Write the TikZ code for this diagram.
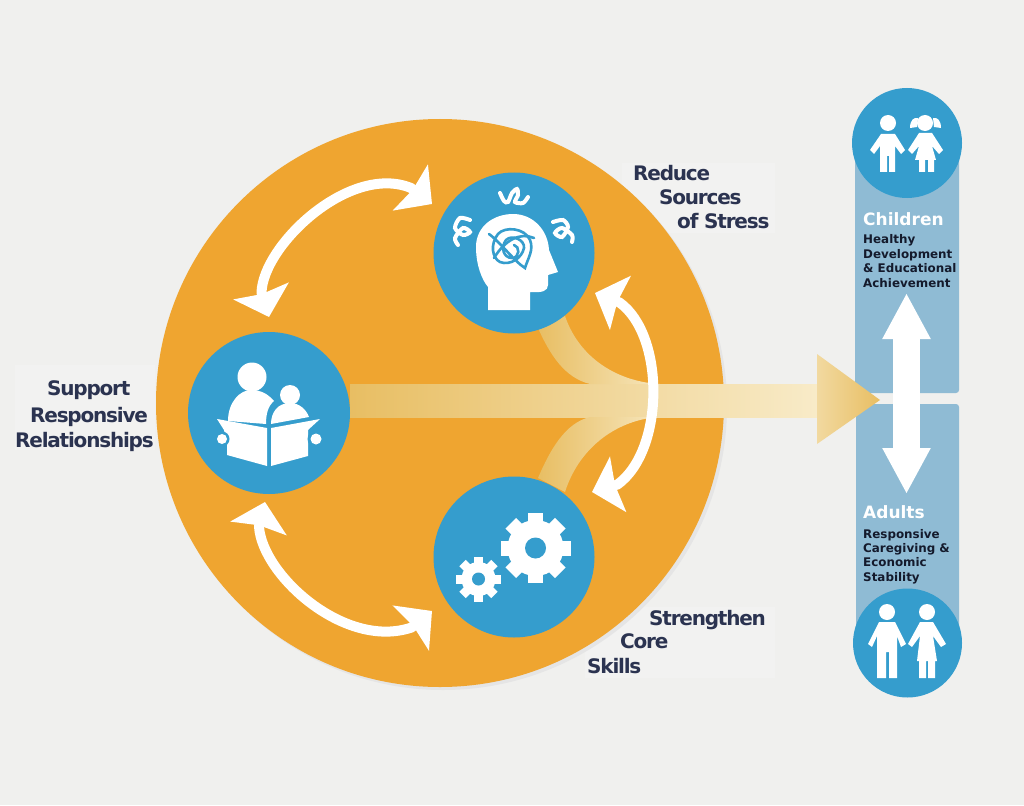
\documentclass[tikz,border=0pt]{standalone}
\usepackage{fontspec}
\usepackage{xcolor}
\usetikzlibrary{arrows.meta}
\newfontfamily\labelfont[LetterSpace=-6]{DejaVu Sans}
\newfontfamily\columnfont{DejaVu Sans}
\definecolor{paper}{HTML}{F0F0EE}
\definecolor{labelpaper}{HTML}{F2F2F1}
\definecolor{bigorange}{HTML}{EFA530}
\definecolor{iconblue}{HTML}{359DCD}
\definecolor{columnblue}{HTML}{8FBBD4}
\definecolor{navy}{HTML}{2B3350}
\definecolor{inknavy}{HTML}{141A2C}
\definecolor{bandstart}{HTML}{E8BE63}
\definecolor{bandend}{HTML}{F8EBC8}
\begin{document}
\begin{tikzpicture}[x=1pt,y=-1pt,
    iconcircle/.style={circle,fill=iconblue,inner sep=0pt},
    loopline/.style={white,line width=10pt,line join=round,{Stealth[length=27pt,width=57pt,inset=3pt]}-{Stealth[length=27pt,width=57pt,inset=3pt]}},
    labeltext/.style={anchor=base west,inner sep=0pt,text=navy,font=\labelfont\bfseries\fontsize{20}{23}\selectfont},
    columntitle/.style={anchor=base west,inner sep=0pt,text=white,font=\columnfont\bfseries\fontsize{17}{20}\selectfont},
    columntext/.style={anchor=base west,inner sep=0pt,text=inknavy,font=\columnfont\bfseries\fontsize{11.9}{14}\selectfont},
    scribble/.style={iconblue,line width=2.6pt,line cap=round},
    squiggle/.style={white,line width=4pt,line cap=round}]
        \useasboundingbox (0,0) rectangle (1024,805);
        \fill[paper] (0,0) rectangle (1024,805);
        \fill[labelpaper] (15,365) rectangle (155,450);
        \fill[labelpaper] (622,163) rectangle (775,233);
        \fill[labelpaper] (585,607) rectangle (775,678);
        \fill[black!10] (443,406) circle (284);
        \node[circle,fill=bigorange,inner sep=0pt,minimum size=568pt] (bigcircle) at (440,403) {};
        \shade[left color=bandstart,right color=bandend] (350,384) rectangle (817,417);
        \shade[left color=bandstart,right color=bandend!90!bandstart] (538,328) .. controls (550,355) and (565,378) .. (590,384) -- (660,384) .. controls (620,382) and (580,360) .. (565,316) -- cycle;
        \shade[left color=bandstart,right color=bandend!90!bandstart] (538,478) .. controls (550,450) and (565,423) .. (590,417) -- (660,417) .. controls (620,419) and (580,445) .. (565,492) -- cycle;
        \coordinate (loopA) at (269,317);
        \coordinate (loopAbase) at (261.5,292.5);
        \coordinate (loopB) at (432,204);
        \coordinate (loopBbase) at (411,188);
        \coordinate (loopC) at (265,502);
        \coordinate (loopCbase) at (259,526.5);
        \coordinate (loopD) at (432,611);
        \coordinate (loopDbase) at (411.5,627.5);
        \coordinate (loopE) at (595,293);
        \coordinate (loopEbase) at (619.5,302.5);
        \coordinate (loopF) at (592,492);
        \coordinate (loopFbase) at (617.5,484.5);
        \draw[loopline] (loopA) -- (loopAbase) .. controls (263,245) and (350,163) .. (loopBbase) -- (loopB);
        \draw[loopline] (loopC) -- (loopCbase) .. controls (262,575) and (345,650) .. (loopDbase) -- (loopD);
        \draw[loopline] (loopE) -- (loopEbase) .. controls (665,335) and (665,450) .. (loopFbase) -- (loopF);
        \node[iconcircle,minimum size=162pt] (readers) at (269,413) {};
        \node[iconcircle,minimum size=161pt] (stress) at (514,253) {};
        \node[iconcircle,minimum size=161pt] (skills) at (514,557) {};
        % readers
        \fill[white] (252,377) circle (14.5);
        \fill[white] (290,395) circle (10);
        \fill[white] (228,421) .. controls (228,402) and (240,390) .. (251,390) .. controls (261,390) and (268,394) .. (274,401) .. controls (268,406) and (266,414) .. (266,424) -- cycle;
        \fill[white] (271,424) .. controls (271,412) and (278,403) .. (290,403) .. controls (299,403) and (306,409) .. (309,417) -- cycle;
        \fill[white] (217,419) -- (267,428) -- (267,466) -- (227,455) -- (227,445) -- (224,430) -- cycle;
        \fill[white] (320,419) -- (271,428) -- (271,466) -- (308,456) -- (308,430) -- cycle;
        \fill[iconblue] (222,439) circle (7.5);
        \fill[iconblue] (316,439) circle (8.5);
        \fill[white] (222,439) circle (5);
        \fill[white] (316,439) circle (5.5);
        % head
        \fill[white] (488,310) -- (488,287) .. controls (482,280) and (476,265) .. (476,247) .. controls (476,226) and (494,214) .. (513,214) .. controls (533,214) and (548,230) .. (549,250) -- (558,272) -- (548,275) -- (548,285) .. controls (548,291) and (542,293) .. (530,292) -- (530,310) -- cycle;
        \draw[scribble] (489,234) .. controls (500,242) and (515,262) .. (525,268) .. controls (528,258) and (534,250) .. (530,240) .. controls (525,228) and (505,226) .. (498,234) .. controls (490,244) and (492,258) .. (500,262) .. controls (510,266) and (522,258) .. (524,248) .. controls (525,240) and (512,234) .. (506,240) .. controls (500,248) and (504,258) .. (512,258) .. controls (520,258) and (520,246) .. (514,245);
        \draw[scribble] (494,258) .. controls (505,240) and (520,232) .. (534,238);
        \draw[squiggle] plot[smooth] coordinates {(500,193) (504,201) (508,202) (512,193) (517,189) (518,195) (515,202) (523,203) (528,197)};
        \draw[squiggle] plot[smooth] coordinates {(470,220) (460,218) (455,228) (463,235) (470,232) (463,228) (455,238) (458,245)};
        \draw[squiggle] plot[smooth] coordinates {(553,222) (563,220) (568,227) (562,237) (555,233) (562,228) (572,235) (572,242)};
        % gears
        \foreach \a in {0,45,...,315} {
            \fill[white,rotate around={\a:(535.5,548)}] (528,513) rectangle (543,530);
            \fill[white,rotate around={\a:(478.5,579)}] (474,556.5) rectangle (483,570);
        }
        \fill[white] (535.5,548) circle (28);
        \fill[iconblue] (535.5,548) circle (10.5);
        \fill[white] (478.5,579) circle (17);
        \fill[iconblue] (478.5,579) circle (6.5);
        % column
        \fill[columnblue,rounded corners=3pt] (855,150) rectangle (959,393);
        \fill[columnblue,rounded corners=3pt] (856,404) rectangle (959,640);
        \shade[left color=bandend!60!bandstart,right color=bandstart] (817,354) -- (880,400) -- (817,444) -- cycle;
        \coordinate (columnup) at (906.5,293);
        \coordinate (columndown) at (906.5,494);
        \draw[white,line width=27pt,{Triangle[length=46pt,width=45pt]}-{Triangle[length=46pt,width=45pt]}] (columnup) -- (columndown);
        \node[iconcircle,minimum size=110pt] (children) at (907,143) {};
        \node[iconcircle,minimum size=109pt] (adults) at (907.5,643) {};
        % boy and girl
        \fill[white] (888,123) circle (8);
        \fill[white] (881,134) -- (895,134) -- (905,150) -- (901,154) -- (895,146) -- (895,172) -- (889,172) -- (889,156) -- (887,156) -- (887,172) -- (880,172) -- (880,146) -- (874,154) -- (870,150) -- cycle;
        \fill[white] (925,123) circle (8);
        \fill[white] (910,128) .. controls (910,120) and (914,117) .. (918,118) -- (917,127) -- cycle;
        \fill[white] (941,128) .. controls (941,120) and (937,117) .. (933,118) -- (934,127) -- cycle;
        \fill[white] (919,133) -- (932,133) -- (943,150) -- (939,154) -- (932,146) -- (936,160) -- (934,160) -- (934,172) -- (928,172) -- (928,160) -- (925,160) -- (925,172) -- (919,172) -- (919,160) -- (915,160) -- (919,146) -- (912,154) -- (908,150) -- cycle;
        % man and woman
        \fill[white] (887,612) circle (8);
        \fill[white] (879,622) -- (895,622) -- (906,644) -- (901,647) -- (897,636) -- (897,678) -- (889,678) -- (889,652) -- (886,652) -- (886,678) -- (877,678) -- (877,636) -- (872,647) -- (868,644) -- cycle;
        \fill[white] (927,612) circle (8);
        \fill[white] (920,622) -- (933,622) -- (946,644) -- (941,647) -- (933,636) -- (937,661) -- (935,661) -- (935,678) -- (928,678) -- (928,661) -- (926,661) -- (926,678) -- (919,678) -- (919,661) -- (917,661) -- (920,636) -- (912,647) -- (908,644) -- cycle;
        % labels
        \node[labeltext] (support) at (47,395) {Support};
        \node[labeltext] (responsive) at (30,422) {Responsive};
        \node[labeltext] (relationships) at (15,447) {Relationships};
        \node[labeltext] (reduce) at (633,181) {Reduce};
        \node[labeltext] (sources) at (659,204) {Sources};
        \node[labeltext] (ofstress) at (677,228) {of Stress};
        \node[labeltext] (strengthen) at (649,625) {Strengthen};
        \node[labeltext] (core) at (620,648) {Core};
        \node[labeltext] (skillsword) at (587,673) {Skills};
        \node[columntitle] (childrenword) at (863,225) {Children};
        \node[columntext] (healthy) at (863,243) {Healthy};
        \node[columntext] (development) at (863,258) {Development};
        \node[columntext] (educational) at (863,272.5) {\& Educational};
        \node[columntext] (achievement) at (863,287) {Achievement};
        \node[columntitle] (adultsword) at (863,518) {Adults};
        \node[columntext] (responsiveword) at (863,538) {Responsive};
        \node[columntext] (caregiving) at (863,552) {Caregiving \&};
        \node[columntext] (economic) at (863,566.5) {Economic};
        \node[columntext] (stability) at (863,581) {Stability};
\end{tikzpicture}
\end{document}
